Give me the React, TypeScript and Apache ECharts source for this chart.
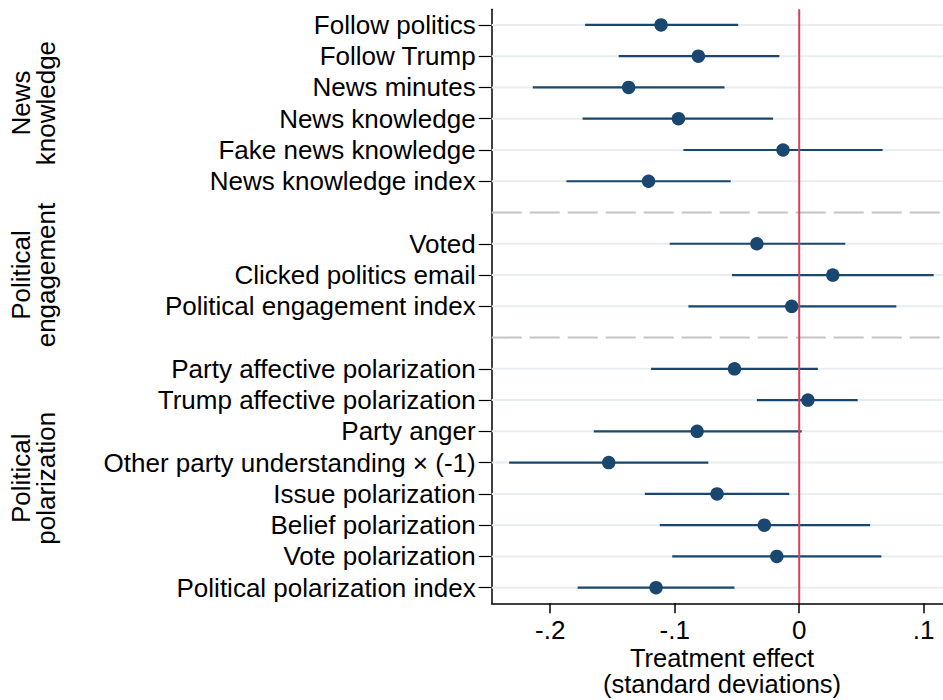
import React, { useEffect, useRef } from "react";
import * as echarts from "echarts";

// ---- data ----
const rowLabels: string[] = [
  "Follow politics",
  "Follow Trump",
  "News minutes",
  "News knowledge",
  "Fake news knowledge",
  "News knowledge index",
  "",
  "Voted",
  "Clicked politics email",
  "Political engagement index",
  "",
  "Party affective polarization",
  "Trump affective polarization",
  "Party anger",
  "Other party understanding × (-1)",
  "Issue polarization",
  "Belief polarization",
  "Vote polarization",
  "Political polarization index",
];
const estimates: (number | null)[] = [
  -0.111, -0.081, -0.137, -0.097, -0.013, -0.121, null,
  -0.034, 0.027, -0.006, null,
  -0.052, 0.007, -0.082, -0.153, -0.066, -0.028, -0.018, -0.115,
];
const ciLow: (number | null)[] = [
  -0.172, -0.145, -0.214, -0.174, -0.093, -0.187, null,
  -0.104, -0.054, -0.089, null,
  -0.119, -0.034, -0.165, -0.233, -0.124, -0.112, -0.102, -0.178,
];
const ciHigh: (number | null)[] = [
  -0.049, -0.016, -0.060, -0.021, 0.067, -0.055, null,
  0.037, 0.108, 0.078, null,
  0.015, 0.047, 0.002, -0.073, -0.008, 0.057, 0.066, -0.052,
];
const groupNames: string[] = ["News\nknowledge", "Political\nengagement", "Political\npolarization"];
const groupFirstRow: number[] = [0, 7, 11];
const groupLastRow: number[] = [5, 9, 18];
const xTickValues: number[] = [-0.2, -0.1, 0, 0.1];
const xTickLabels: string[] = ["-.2", "-.1", "0", ".1"];
const xTitleLines: string[] = ["Treatment effect", "(standard deviations)"];
const referenceValue = 0;

const FONT = "'Liberation Sans', Arial, Helvetica, sans-serif";
const NAVY = "#1a476f";
const FS = 26;

export default function App() {
  const ref = useRef<HTMLDivElement>(null);

  useEffect(() => {
    if (!ref.current) return;
    const chart = echarts.init(ref.current, undefined, { renderer: "svg" });

    const labeledRows = rowLabels.map((l, i) => (l ? i : -1)).filter((i) => i >= 0);
    const separatorRows = rowLabels.map((l, i) => (l ? -1 : i)).filter((i) => i >= 0);
    const ciData = labeledRows.map((i) => [ciLow[i], ciHigh[i], i]);
    const pointData = labeledRows.map((i) => [estimates[i], i]);

    const hLine = (color: string, width: number, dash?: number[]) =>
      (params: any, api: any) => {
        const cs = params.coordSys;
        const y = api.coord([0, api.value(0)])[1];
        return {
          type: "line",
          shape: { x1: cs.x, y1: y, x2: cs.x + cs.width, y2: y },
          style: { stroke: color, lineWidth: width, lineDash: dash },
          silent: true,
        };
      };

    chart.setOption({
      animation: false,
      grid: { left: 491.7, top: 9.3, right: 0, height: 594, containLabel: false },
      xAxis: {
        type: "value",
        min: -0.247,
        max: 0.1155,
        axisLine: { show: true, onZero: false, lineStyle: { color: "#000", width: 1.5 } },
        axisTick: { show: true, length: 10, lineStyle: { color: "#000", width: 1.5 }, customValues: xTickValues },
        axisLabel: {
          customValues: xTickValues,
          margin: 14,
          fontFamily: FONT,
          fontSize: FS,
          color: "#000",
          formatter: (v: number) => {
            const k = xTickValues.findIndex((t) => Math.abs(t - v) < 1e-9);
            return k >= 0 ? xTickLabels[k] : "";
          },
        },
        splitLine: { show: false },
      },
      yAxis: {
        type: "value",
        min: -0.5,
        max: rowLabels.length - 0.5,
        inverse: true,
        axisLine: { show: true, onZero: false, lineStyle: { color: "#000", width: 1.5 } },
        axisTick: { show: true, length: 13, lineStyle: { color: "#000", width: 1.2 }, customValues: labeledRows },
        axisLabel: {
          customValues: labeledRows,
          margin: 16,
          fontFamily: FONT,
          fontSize: FS,
          color: "#000",
          formatter: (v: number) => rowLabels[Math.round(v)] || "",
        },
        splitLine: { show: false },
      },
      series: [
        {
          type: "custom",
          name: "grid",
          z: 1,
          data: labeledRows.map((i) => [i]),
          encode: { y: 0 },
          renderItem: hLine("#e6eef0", 2),
        },
        {
          type: "custom",
          name: "separators",
          z: 1,
          data: separatorRows.map((i) => [i]),
          encode: { y: 0 },
          renderItem: hLine("#c4c4c4", 2, [30, 8]),
        },
        {
          type: "custom",
          name: "ci",
          z: 2,
          data: ciData,
          encode: { x: [0, 1], y: 2 },
          renderItem: (params: any, api: any) => {
            const p1 = api.coord([api.value(0), api.value(2)]);
            const p2 = api.coord([api.value(1), api.value(2)]);
            return {
              type: "line",
              shape: { x1: p1[0], y1: p1[1], x2: p2[0], y2: p2[1] },
              style: { stroke: NAVY, lineWidth: 2.2 },
            };
          },
        },
        {
          type: "custom",
          name: "reference",
          z: 3,
          data: [[referenceValue]],
          encode: { x: 0 },
          renderItem: (params: any, api: any) => {
            const cs = params.coordSys;
            const x = api.coord([api.value(0), 0])[0];
            return {
              type: "line",
              shape: { x1: x, y1: cs.y, x2: x, y2: cs.y + cs.height },
              style: { stroke: "#d8405f", lineWidth: 2 },
            };
          },
        },
        {
          type: "scatter",
          name: "estimate",
          z: 4,
          symbol: "circle",
          symbolSize: 13.5,
          itemStyle: { color: NAVY, opacity: 1 },
          data: pointData,
        },
      ],
    });

    const groupTexts = groupNames.map((name, g) => {
      const mid = (groupFirstRow[g] + groupLastRow[g]) / 2;
      const y = chart.convertToPixel({ yAxisIndex: 0 }, mid) as number;
      return {
        type: "text",
        x: 33,
        y,
        rotation: Math.PI / 2,
        style: {
          text: name,
          fontFamily: FONT,
          fontSize: FS,
          lineHeight: 25,
          fill: "#000",
          textAlign: "center",
          textVerticalAlign: "middle",
          align: "center",
          verticalAlign: "middle",
        },
      };
    });
    const titleTexts = xTitleLines.map((t, i) => ({
      type: "text",
      x: 722,
      y: 658 + i * 26,
      style: {
        text: t,
        fontFamily: FONT,
        fontSize: 25.5,
        fill: "#000",
        textAlign: "center",
        textVerticalAlign: "middle",
        align: "center",
        verticalAlign: "middle",
      },
    }));
    chart.setOption({ graphic: [...groupTexts, ...titleTexts] });

    return () => chart.dispose();
  }, []);

  return (
    <div
      ref={ref}
      style={{ position: "absolute", left: 0, top: 0, width: 943, height: 700, background: "#fff" }}
    />
  );
}
